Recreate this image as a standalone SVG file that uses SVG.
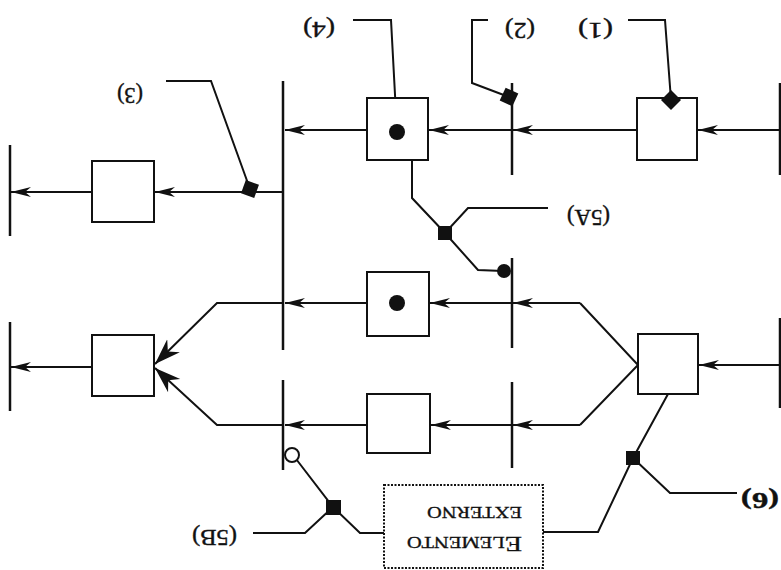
<svg xmlns="http://www.w3.org/2000/svg" width="781" height="570" viewBox="0 0 781 570">
<style>
.ln{fill:none;stroke:#111;stroke-width:2}
.box{fill:#fff;stroke:#111;stroke-width:2}
.bar{stroke:#111;stroke-width:2.5}
.arr{marker-end:url(#ah)}
.big{marker-end:url(#ahb)}
.lbl{font-family:"Liberation Serif","Times New Roman",serif;font-size:23px;fill:#111;stroke:#111;stroke-width:0.4}
.ext{font-family:"Liberation Serif","Times New Roman",serif;fill:#111;stroke:#111;stroke-width:0.3}
.blk{fill:#111}
</style>
<defs>
<marker id="ah" markerUnits="userSpaceOnUse" viewBox="0 -6 22 12" refX="20" refY="0" markerWidth="22" markerHeight="12" orient="auto">
<path d="M20,0 L0,-5 L6,0 L0,5 Z" fill="#111"/>
</marker>
<marker id="ahb" markerUnits="userSpaceOnUse" viewBox="0 -10 28 20" refX="26" refY="0" markerWidth="28" markerHeight="20" orient="auto">
<path d="M26,0 L0,-9 L8,0 L0,9 Z" fill="#111"/>
</marker>
</defs>
<rect width="781" height="570" fill="#fff"/>

<g id="connectors">
<line class="bar" x1="10" y1="145" x2="10" y2="236"/>
<line class="bar" x1="10" y1="322" x2="10" y2="411"/>
<line class="bar" x1="283" y1="81" x2="283" y2="350"/>
<line class="bar" x1="283" y1="380" x2="283" y2="470"/>
<line class="bar" x1="512" y1="83" x2="512" y2="175"/>
<line class="bar" x1="512" y1="258" x2="512" y2="348"/>
<line class="bar" x1="512" y1="382" x2="512" y2="468"/>
<line class="bar" x1="780" y1="83" x2="780" y2="175"/>
<line class="bar" x1="780" y1="318" x2="780" y2="408"/>
<line class="ln arr" x1="780" y1="130" x2="698" y2="130"/>
<line class="ln arr" x1="637" y1="130" x2="513" y2="130"/>
<line class="ln arr" x1="512" y1="130" x2="429" y2="130"/>
<line class="ln arr" x1="367" y1="130" x2="285" y2="130"/>
<line class="ln arr" x1="283" y1="192" x2="155" y2="192"/>
<line class="ln arr" x1="92" y1="192" x2="11" y2="192"/>
<line class="ln arr" x1="780" y1="365" x2="699" y2="365"/>
<polyline class="ln" points="580,303 638,365 580,425"/>
<line class="ln arr" x1="580" y1="303" x2="513" y2="303"/>
<line class="ln arr" x1="512" y1="303" x2="430" y2="303"/>
<line class="ln arr" x1="367" y1="303" x2="285" y2="303"/>
<polyline class="ln big" points="283,303 217,303 155,364"/>
<line class="ln arr" x1="580" y1="425" x2="513" y2="425"/>
<line class="ln arr" x1="512" y1="425" x2="431" y2="425"/>
<line class="ln arr" x1="367" y1="425" x2="285" y2="425"/>
<polyline class="ln big" points="283,425 217,425 155,368"/>
<line class="ln arr" x1="92" y1="367" x2="11" y2="367"/>
<polyline class="ln" points="412,160 412,198 445,233 478,270 503,271"/>
<polyline class="ln" points="445,233 468,208 548,208"/>
<polyline class="ln" points="668,394 633,458 598,532 543,532"/>
<polyline class="ln" points="633,458 670,493 737,493"/>
<polyline class="ln" points="385,533 360,533 333,507 293,455"/>
<polyline class="ln" points="333,507 305,533 253,533"/>
<polyline class="ln" points="671,100 665,20 628,20"/>
<polyline class="ln" points="509,97 472,83 472,20 488,20"/>
<polyline class="ln" points="250,189 211,81 166,81"/>
<polyline class="ln" points="397,132 391,20 353,20"/>
</g>

<g id="box1"><rect class="box" x="637" y="98" width="60" height="62"/></g>
<g id="box4"><rect class="box" x="367" y="98" width="61" height="62"/><circle class="blk" cx="397" cy="132" r="8"/></g>
<g id="box3"><rect class="box" x="92" y="161" width="62" height="61"/></g>
<g id="boxMid"><rect class="box" x="367" y="272" width="62" height="64"/><circle class="blk" cx="397" cy="303" r="8"/></g>
<g id="boxLow"><rect class="box" x="367" y="394" width="63" height="59"/></g>
<g id="boxFork"><rect class="box" x="638" y="334" width="60" height="60"/></g>
<g id="boxOut"><rect class="box" x="92" y="335" width="62" height="61"/></g>
<g id="ext">
<rect x="384" y="485" width="159" height="83" fill="#fff" stroke="#111" stroke-width="2" stroke-dasharray="2,1.5"/>
<text class="ext" x="522" y="537" transform="rotate(180 522 537)" textLength="115" lengthAdjust="spacingAndGlyphs"><tspan font-size="22">E</tspan><tspan font-size="16">LEMENTO</tspan></text>
<text class="ext" x="522" y="507" font-size="16" transform="rotate(180 522 507)" textLength="95" lengthAdjust="spacingAndGlyphs">EXTERNO</text>
</g>

<g id="markers">
<polygon class="blk" points="671,90 681,100 671,110 661,100"/>
<rect class="blk" x="502" y="90" width="14" height="14" transform="rotate(25 509 97)"/>
<rect class="blk" x="243" y="182" width="14" height="14" transform="rotate(20 250 189)"/>
<rect class="blk" x="438" y="226" width="14" height="14"/>
<circle class="blk" cx="504" cy="271" r="7"/>
<rect class="blk" x="626" y="451" width="14" height="14"/>
<rect class="blk" x="326" y="500" width="15" height="15"/>
<circle cx="292" cy="455" r="7" fill="#fff" stroke="#111" stroke-width="2"/>
</g>

<g id="labels">
<text class="lbl" x="613" y="23" transform="rotate(180 613 23)" textLength="35" lengthAdjust="spacingAndGlyphs">(1)</text>
<text class="lbl" x="535" y="23" transform="rotate(180 535 23)" textLength="30" lengthAdjust="spacingAndGlyphs">(2)</text>
<text class="lbl" x="143" y="88" transform="rotate(180 143 88)" textLength="26" lengthAdjust="spacingAndGlyphs">(3)</text>
<text class="lbl" x="335" y="22" transform="rotate(180 335 22)" textLength="32" lengthAdjust="spacingAndGlyphs">(4)</text>
<text class="lbl" x="610" y="210" transform="rotate(180 610 210)" textLength="43" lengthAdjust="spacingAndGlyphs">(5A)</text>
<text class="lbl" x="237" y="530" transform="rotate(180 237 530)" textLength="45" lengthAdjust="spacingAndGlyphs">(5B)</text>
<text class="lbl" x="779" y="493" font-weight="bold" transform="rotate(180 779 493)" textLength="38" lengthAdjust="spacingAndGlyphs">(6)</text>
</g>
</svg>
